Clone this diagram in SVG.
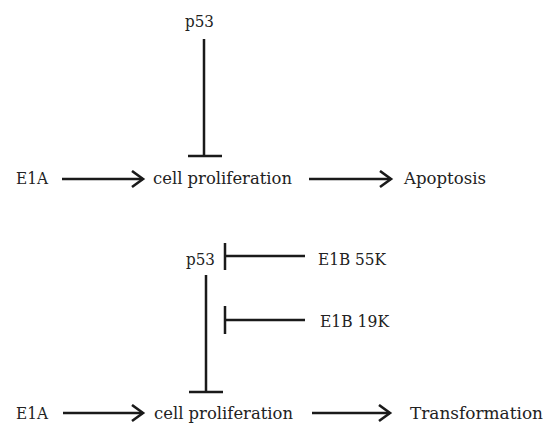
<svg xmlns="http://www.w3.org/2000/svg" width="551" height="424" viewBox="0 0 551 424">
<defs>
<style>
text{font-family:"DejaVu Serif","Liberation Serif",serif;font-size:17px;fill:#222}
.l{stroke:#1a1a1a;stroke-width:2.5;fill:none}
.a{stroke:#1a1a1a;stroke-width:2.5;fill:none;marker-end:url(#arr)}
</style>
<marker id="arr" markerUnits="userSpaceOnUse" markerWidth="16" markerHeight="20" refX="12" refY="9" orient="auto">
<path d="M1,1 L12,9 L1,17" stroke="#1a1a1a" stroke-width="2.6" fill="none"/>
</marker>
</defs>
<rect width="551" height="424" fill="#fff"/>
<g id="p53-top"><text x="185" y="27" textLength="29" lengthAdjust="spacingAndGlyphs">p53</text></g>
<g id="e1a-top"><text x="16" y="184" textLength="32" lengthAdjust="spacingAndGlyphs">E1A</text></g>
<g id="cellprolif-top"><text x="153" y="184" textLength="139" lengthAdjust="spacingAndGlyphs">cell proliferation</text></g>
<g id="apoptosis"><text x="404" y="184" textLength="82" lengthAdjust="spacingAndGlyphs">Apoptosis</text></g>
<g id="p53-bottom"><text x="186" y="265" textLength="29" lengthAdjust="spacingAndGlyphs">p53</text></g>
<g id="e1b55k"><text x="318" y="265" textLength="68" lengthAdjust="spacingAndGlyphs">E1B 55K</text></g>
<g id="e1b19k"><text x="320" y="327" textLength="69" lengthAdjust="spacingAndGlyphs">E1B 19K</text></g>
<g id="e1a-bottom"><text x="16" y="419" textLength="32" lengthAdjust="spacingAndGlyphs">E1A</text></g>
<g id="cellprolif-bottom"><text x="154" y="419" textLength="139" lengthAdjust="spacingAndGlyphs">cell proliferation</text></g>
<g id="transformation"><text x="410" y="419" textLength="133" lengthAdjust="spacingAndGlyphs">Transformation</text></g>
<g id="connectors">
<path class="l" d="M204,39 V156 M188,156 H222"/>
<path class="a" d="M62,179 H143"/>
<path class="a" d="M309,179 H391"/>
<path class="l" d="M206,275 V392 M189,392 H223"/>
<path class="l" d="M225,243 V270 M225,256 H305"/>
<path class="l" d="M225,306 V334 M225,320 H305"/>
<path class="a" d="M63,413 H143"/>
<path class="a" d="M312,413 H390"/>
</g>
</svg>
